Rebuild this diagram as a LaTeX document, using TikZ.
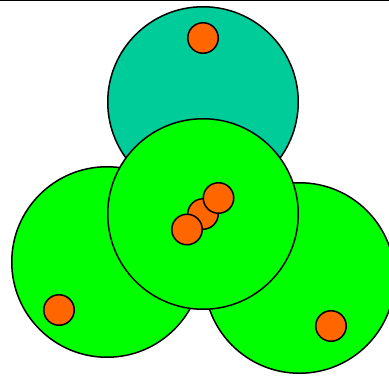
\documentclass[tikz,border=0pt]{standalone}
\definecolor{tealc}{RGB}{0,204,153}
\definecolor{greenc}{RGB}{0,255,0}
\definecolor{orangec}{RGB}{255,102,0}
\begin{document}
\begin{tikzpicture}[x=1pt,y=-1pt,
  big/.style={circle,draw=black,line width=1.5pt,minimum size=190.5pt,inner sep=0pt},
  dot/.style={circle,draw=black,line width=1.5pt,fill=orangec,minimum size=30.5pt,inner sep=0pt}]
\clip (0,0) rectangle (389,376);
\useasboundingbox (0,0) rectangle (389,376);
\draw[line width=1pt] (0,0.5) coordinate (tl) -- (389,0.5) coordinate (tr);
\node[big,fill=tealc] (top) at (203,102) {};
\node[big,fill=greenc] (left) at (107,262) {};
\node[big,fill=greenc] (right) at (299.5,278) {};
\node[big,fill=greenc] (mid) at (203,214) {};
\node[dot] (dtop) at (203,38) {};
\node[dot] (dleft) at (59,310) {};
\node[dot] (dright) at (331,326) {};
\node[dot] (dm2) at (203,214) {};
\node[dot] (dm3) at (218.5,198) {};
\node[dot] (dm1) at (187,229.5) {};
\end{tikzpicture}
\end{document}
